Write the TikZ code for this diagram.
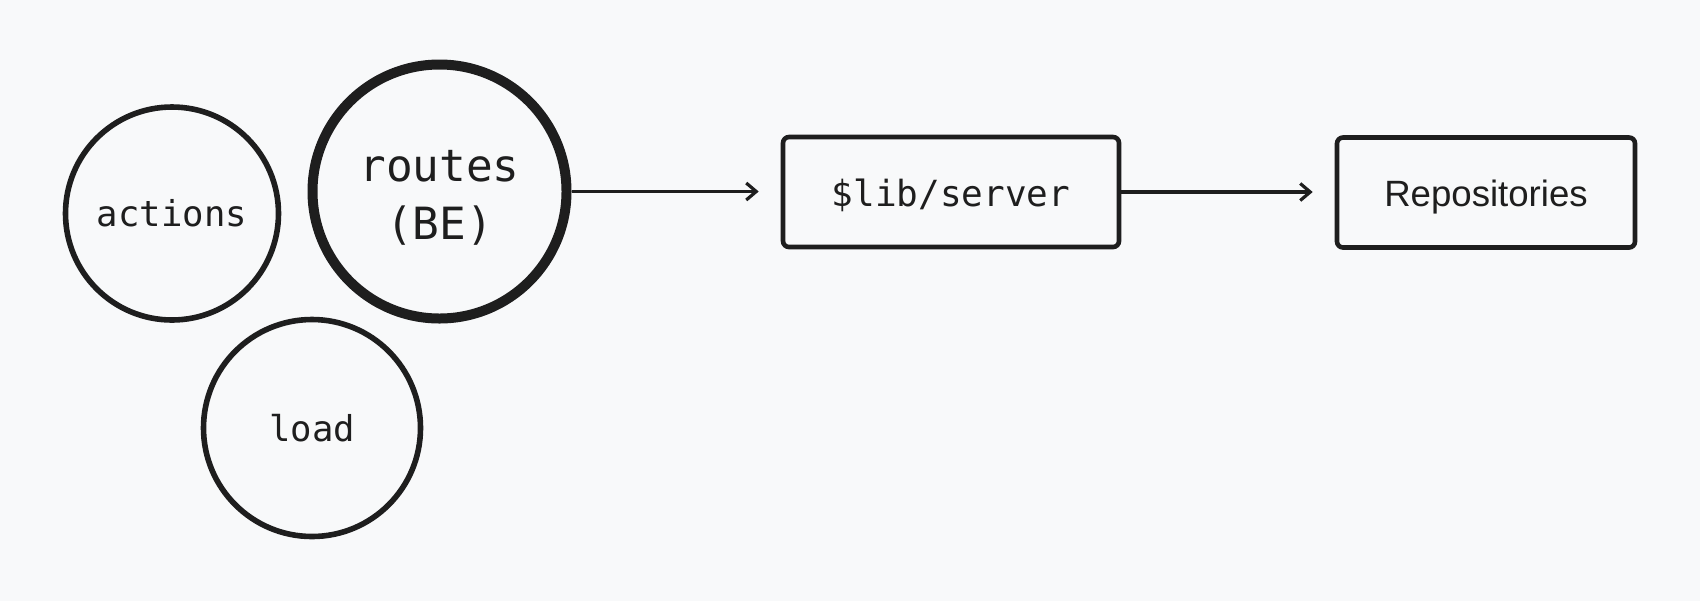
\documentclass[tikz,border=0pt]{standalone}
\usepackage{fontspec}
\setmainfont{Liberation Sans}
\newfontfamily\monofont{DejaVu Sans Mono}
\usetikzlibrary{arrows.meta}
\definecolor{ink}{HTML}{1E1E1E}
\definecolor{bg}{HTML}{F8F9FA}
\tikzset{
  bubble/.style={circle, draw=ink, line width=2.8pt, inner sep=0pt, text=ink,
    font=\monofont\fontsize{17.8}{22}\selectfont},
  bigbubble/.style={bubble, line width=5pt},
  bigtext/.style={align=center, text=ink, inner sep=0pt,
    font=\monofont\fontsize{22.2}{29}\selectfont},
  block/.style={rectangle, rounded corners=3pt, draw=ink, line width=2.3pt, inner sep=0pt,
    minimum height=55pt, text=ink},
  flow/.style={draw=ink, line width=1.6pt, -{Straight Barb[length=5pt,width=8.5pt,line width=1.6pt]}, shorten >=11pt}
}
\begin{document}
\begin{tikzpicture}[x=0.5pt,y=-0.5pt]
\path[fill=bg, use as bounding box] (0,0) rectangle (1700,601);
\node[bubble, minimum size=106.5pt] (actions) at (172,213.5) {actions};
\node[bigbubble, minimum size=127pt] (routes) at (439.5,191.5) {};
\node[bigtext] (routeslabel) at ([yshift=-3.3pt]routes.center) {routes\\(BE)};
\node[bubble, minimum size=108.5pt] (load) at (312,428) {load};
\node[block, minimum width=168pt, text height=16.5pt, text depth=2pt, font=\monofont\fontsize{18}{22}\selectfont] (server) at (951,192) {\$lib/server};
\node[block, minimum width=149pt, text height=17.6pt, text depth=4pt, font=\fontsize{18.3}{22}\selectfont] (repos) at (1486,192.5) {Repositories};
\draw[flow] (routes.east) -- (routes.east -| server.west);
\draw[flow] (server.east) -- (server.east -| repos.west);
\end{tikzpicture}
\end{document}
